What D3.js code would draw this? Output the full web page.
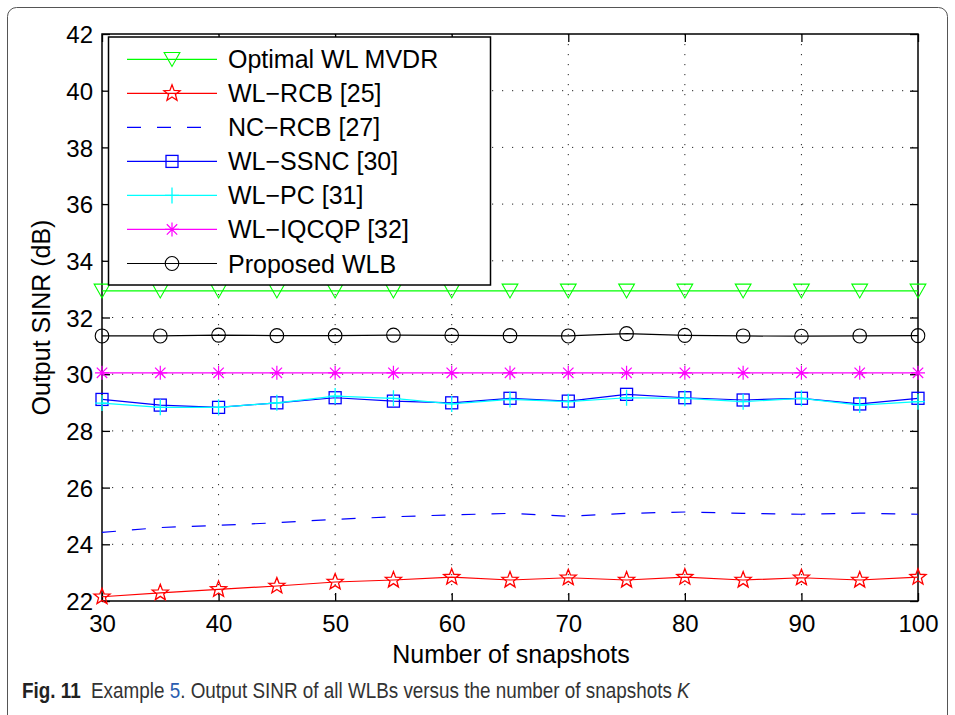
<!DOCTYPE html>
<html>
<head>
<meta charset="utf-8">
<script src="https://cdn.jsdelivr.net/npm/d3@7"></script>
<style>
  html, body { margin: 0; padding: 0; background: #fff; }
  svg { display: block; }
  text { font-family: "Liberation Sans", Arial, Helvetica, sans-serif; }
</style>
</head>
<body>
<div id="chart"></div>
<script>
// ---- data ----
const snapshots = [30, 35, 40, 45, 50, 55, 60, 65, 70, 75, 80, 85, 90, 95, 100];
const optimalMVDR = [32.94, 32.94, 32.94, 32.94, 32.94, 32.94, 32.94, 32.94, 32.94, 32.94, 32.94, 32.94, 32.94, 32.94, 32.94];
const wlRCB = [22.15, 22.29, 22.41, 22.53, 22.67, 22.74, 22.84, 22.74, 22.82, 22.74, 22.84, 22.74, 22.82, 22.74, 22.84];
const ncRCB = [24.42, 24.59, 24.67, 24.76, 24.88, 24.97, 25.04, 25.09, 24.99, 25.09, 25.14, 25.09, 25.06, 25.10, 25.06];
const wlSSNC = [29.11, 28.91, 28.83, 28.99, 29.17, 29.05, 28.99, 29.15, 29.05, 29.29, 29.17, 29.09, 29.15, 28.95, 29.15];
const wlPC = [28.98, 28.83, 28.83, 28.99, 29.23, 29.15, 28.95, 29.11, 29.03, 29.17, 29.15, 29.03, 29.15, 28.91, 29.03];
const wlIQCQP = [30.05, 30.05, 30.05, 30.05, 30.05, 30.05, 30.05, 30.05, 30.05, 30.05, 30.05, 30.05, 30.05, 30.05, 30.05];
const proposedWLB = [31.35, 31.35, 31.38, 31.36, 31.36, 31.38, 31.37, 31.36, 31.35, 31.43, 31.37, 31.35, 31.34, 31.35, 31.36];

const xTicks = [30, 40, 50, 60, 70, 80, 90, 100];
const yTicks = [22, 24, 26, 28, 30, 32, 34, 36, 38, 40, 42];

const seriesNames = ["Optimal WL MVDR", "WL\u2212RCB [25]", "NC\u2212RCB [27]", "WL\u2212SSNC [30]", "WL\u2212PC [31]", "WL\u2212IQCQP [32]", "Proposed WLB"];
const seriesValues = [optimalMVDR, wlRCB, ncRCB, wlSSNC, wlPC, wlIQCQP, proposedWLB];
const seriesColors = ["#00ff00", "#ff0000", "#0000ff", "#0000ff", "#00ffff", "#ff00ff", "#000000"];
const seriesMarkers = ["triangleDown", "star", "none", "square", "plus", "asterisk", "circle"];
const seriesDashes = [null, null, "14,16", null, null, null, null];

// ---- layout ----
const W = 955, H = 715;
const m = { left: 102, top: 34, right: 918, bottom: 601 };

const svg = d3.select("#chart").append("svg").attr("width", W).attr("height", H);

// figure frame
svg.append("rect").attr("x", 7.5).attr("y", 7.5).attr("width", 940).attr("height", 730)
  .attr("rx", 9).attr("fill", "none").attr("stroke", "#555").attr("stroke-width", 1);

const x = d3.scaleLinear().domain([30, 100]).range([m.left, m.right]);
const y = d3.scaleLinear().domain([22, 42]).range([m.bottom, m.top]);

// grid
const grid = svg.append("g");
xTicks.slice(1, -1).forEach(t => {
  grid.append("line").attr("x1", x(t)).attr("x2", x(t)).attr("y1", m.top).attr("y2", m.bottom)
    .attr("stroke", "#000").attr("stroke-width", 1).attr("stroke-dasharray", "1.2,8.8").attr("opacity", 0.85);
});
yTicks.slice(1, -1).forEach(t => {
  grid.append("line").attr("x1", m.left).attr("x2", m.right).attr("y1", y(t)).attr("y2", y(t))
    .attr("stroke", "#000").attr("stroke-width", 1).attr("stroke-dasharray", "1.2,8.8").attr("opacity", 0.85);
});

// axes with inward ticks
const tickLen = 8;
const axB = svg.append("g").attr("transform", `translate(0,${m.bottom})`)
  .call(d3.axisBottom(x).tickValues(xTicks).tickSizeInner(-tickLen).tickSizeOuter(0).tickPadding(14));
const axT = svg.append("g").attr("transform", `translate(0,${m.top})`)
  .call(d3.axisTop(x).tickValues(xTicks).tickSizeInner(-tickLen).tickSizeOuter(0).tickFormat(""));
const axL = svg.append("g").attr("transform", `translate(${m.left},0)`)
  .call(d3.axisLeft(y).tickValues(yTicks).tickSizeInner(-tickLen).tickSizeOuter(0).tickPadding(9));
const axR = svg.append("g").attr("transform", `translate(${m.right},0)`)
  .call(d3.axisRight(y).tickValues(yTicks).tickSizeInner(-tickLen).tickSizeOuter(0).tickFormat(""));
[axB, axT, axL, axR].forEach(a => {
  a.select(".domain").remove();
  a.selectAll(".tick line").attr("stroke", "#000").attr("stroke-width", 1.3);
  a.selectAll("text").attr("fill", "#000").attr("font-size", 24)
    .attr("font-family", '"Liberation Sans", Arial, sans-serif');
});
axB.selectAll("text").attr("dy", "0.71em");
axL.selectAll("text").attr("dy", "0.36em");

// box
svg.append("rect").attr("x", m.left).attr("y", m.top).attr("width", m.right - m.left)
  .attr("height", m.bottom - m.top).attr("fill", "none").attr("stroke", "#000").attr("stroke-width", 1.5);

// marker drawing
function drawMarker(g, type, cx, cy, color) {
  const s = 7.5;
  if (type === "triangleDown") {
    g.append("path").attr("d", `M${cx - s * 1.05},${cy - s * 0.9}L${cx + s * 1.05},${cy - s * 0.9}L${cx},${cy + s * 0.95}Z`)
      .attr("fill", "none").attr("stroke", color).attr("stroke-width", 1.1);
  } else if (type === "star") {
    const pts = [];
    const R = 8.5, r = 3.6;
    for (let i = 0; i < 10; i++) {
      const a = -Math.PI / 2 + i * Math.PI / 5;
      const rr = i % 2 === 0 ? R : r;
      pts.push([cx + rr * Math.cos(a), cy + rr * Math.sin(a)]);
    }
    g.append("path").attr("d", "M" + pts.map(p => p.join(",")).join("L") + "Z")
      .attr("fill", "none").attr("stroke", color).attr("stroke-width", 1.3);
  } else if (type === "square") {
    g.append("rect").attr("x", cx - 6).attr("y", cy - 6).attr("width", 12).attr("height", 12)
      .attr("fill", "none").attr("stroke", color).attr("stroke-width", 1.3);
  } else if (type === "plus") {
    g.append("path").attr("d", `M${cx - 7},${cy}L${cx + 7},${cy}M${cx},${cy - 8}L${cx},${cy + 8}`)
      .attr("stroke", color).attr("stroke-width", 1.3);
  } else if (type === "asterisk") {
    const a = 7, d = 5.2;
    g.append("path").attr("d", `M${cx - a},${cy}L${cx + a},${cy}M${cx},${cy - a}L${cx},${cy + a}M${cx - d},${cy - d}L${cx + d},${cy + d}M${cx - d},${cy + d}L${cx + d},${cy - d}`)
      .attr("stroke", color).attr("stroke-width", 1.2);
  } else if (type === "circle") {
    g.append("ellipse").attr("cx", cx).attr("cy", cy).attr("rx", 6.8).attr("ry", 7)
      .attr("fill", "none").attr("stroke", color).attr("stroke-width", 1.1);
  }
}

// series
const line = d3.line().x((d, i) => x(snapshots[i])).y(d => y(d));
seriesValues.forEach((vals, k) => {
  const g = svg.append("g");
  g.append("path").datum(vals).attr("d", line).attr("fill", "none")
    .attr("stroke", seriesColors[k]).attr("stroke-width", 1.2)
    .attr("stroke-dasharray", seriesDashes[k]);
  if (seriesMarkers[k] !== "none") {
    vals.forEach((v, i) => drawMarker(g, seriesMarkers[k], x(snapshots[i]), y(v), seriesColors[k]));
  }
});

// legend
const lg = svg.append("g");
lg.append("rect").attr("x", 108.5).attr("y", 37).attr("width", 382).attr("height", 248)
  .attr("fill", "#fff").attr("stroke", "#000").attr("stroke-width", 1.5);
const rowY = d3.scaleLinear().domain([0, 6]).range([59.3, 263.5]);
seriesNames.forEach((name, k) => {
  const yy = rowY(k);
  lg.append("line").attr("x1", 127).attr("x2", 217).attr("y1", yy).attr("y2", yy)
    .attr("stroke", seriesColors[k]).attr("stroke-width", 1.2).attr("stroke-dasharray", seriesDashes[k]);
  if (seriesMarkers[k] !== "none") drawMarker(lg, seriesMarkers[k], 172, yy, seriesColors[k]);
  lg.append("text").attr("x", 228).attr("y", yy).attr("dy", "0.36em").attr("font-size", 25)
    .attr("fill", "#000").text(name);
});

// axis labels
svg.append("text").attr("x", 511).attr("y", 663).attr("text-anchor", "middle")
  .attr("font-size", 25).attr("fill", "#000").text("Number of snapshots");
svg.append("text").attr("transform", `translate(50,${(m.top + m.bottom) / 2}) rotate(-90)`)
  .attr("text-anchor", "middle").attr("font-size", 25).attr("fill", "#000").text("Output SINR (dB)");

// caption (condensed look via horizontal scaling)
const capG = svg.append("g");
const fig = capG.append("text").attr("x", 0).attr("y", 0).attr("font-size", 22).attr("font-weight", "bold")
  .attr("fill", "#222").text("Fig. 11");
const figW = fig.node().getComputedTextLength();
const cap = capG.append("text").attr("x", figW + 12).attr("y", 0).attr("font-size", 22).attr("fill", "#333");
cap.append("tspan").text("Example ");
cap.append("tspan").attr("fill", "#2a5db0").text("5");
cap.append("tspan").text(". Output SINR of all WLBs versus the number of snapshots ");
cap.append("tspan").attr("font-style", "italic").text("K");
const totalW = figW + 12 + cap.node().getComputedTextLength();
const sx = (690 - 22) / totalW;
capG.attr("transform", `translate(22,698) scale(${sx},1)`);
</script>
</body>
</html>
